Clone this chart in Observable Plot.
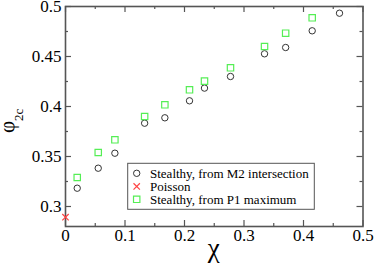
<!DOCTYPE html>
<html>
<head>
<meta charset="utf-8">
<script src="https://cdn.jsdelivr.net/npm/d3@7"></script>
<script src="https://cdn.jsdelivr.net/npm/@observablehq/plot@0.6"></script>
<style>
  html, body { margin: 0; padding: 0; background: #fff; }
  #chart { position: relative; width: 374px; height: 265px; }
  #chart svg, #chart svg text { font-family: "Liberation Serif", "Times New Roman", Times, serif !important; }
</style>
</head>
<body>
<div id="chart"></div>
<script>
// Data
const m2Chi = [0.0197, 0.055, 0.083, 0.133, 0.167, 0.2084, 0.2336, 0.2773, 0.3345, 0.370, 0.4146, 0.4605];
const m2Phi = [0.3183, 0.3383, 0.3533, 0.3833, 0.3887, 0.4057, 0.4184, 0.4300, 0.4527, 0.459, 0.4757, 0.4933];
const p1Chi = [0.0197, 0.055, 0.083, 0.133, 0.167, 0.2084, 0.2336, 0.2773, 0.3345, 0.370, 0.4146];
const p1Phi = [0.329, 0.354, 0.3667, 0.390, 0.4017, 0.4167, 0.4254, 0.4387, 0.460, 0.4733, 0.4887];
const poissonChi = [0];
const poissonPhi = [0.2893];
const xMajor = [0, 0.1, 0.2, 0.3, 0.4, 0.5];
const xMinor = [0.05, 0.15, 0.25, 0.35, 0.45];
const yMajor = [0.3, 0.35, 0.4, 0.45, 0.5];
const yMinor = [0.325, 0.375, 0.425, 0.475];
const legendLabels = ["Stealthy, from M2 intersection", "Poisson", "Stealthy, from P1 maximum"];

const m2 = m2Chi.map((x, i) => ({x, y: m2Phi[i]}));
const p1 = p1Chi.map((x, i) => ({x, y: p1Phi[i]}));
const poisson = poissonChi.map((x, i) => ({x, y: poissonPhi[i]}));

const W = 374, H = 265;
const mL = 65, mR = 11.5, mT = 6, mB = 39;
const fw = W - mL - mR, fh = H - mT - mB;
const axisCol = "#555";
const circCol = "#333";
const sqCol = "#55ee55";
const xCol = "#ff4444";

const plot = Plot.plot({
  width: W, height: H,
  marginLeft: mL, marginRight: mR, marginTop: mT, marginBottom: mB,
  x: {domain: [0, 0.5], axis: null},
  y: {domain: [0.28, 0.5], axis: null},
  style: {fontSize: "17px", color: "#000", background: "#fff", overflow: "visible"},
  marks: [
    Plot.tickX(xMajor, {x: d => d, insetTop: fh - 6, stroke: axisCol, strokeWidth: 1.2}),
    Plot.tickX(xMajor, {x: d => d, insetBottom: fh - 6, stroke: axisCol, strokeWidth: 1.2}),
    Plot.tickX(xMinor, {x: d => d, insetTop: fh - 3, stroke: axisCol, strokeWidth: 1.2}),
    Plot.tickX(xMinor, {x: d => d, insetBottom: fh - 3, stroke: axisCol, strokeWidth: 1.2}),
    Plot.tickY(yMajor, {y: d => d, insetRight: fw - 6, stroke: axisCol, strokeWidth: 1.2}),
    Plot.tickY(yMajor, {y: d => d, insetLeft: fw - 6, stroke: axisCol, strokeWidth: 1.2}),
    Plot.tickY(yMinor, {y: d => d, insetRight: fw - 3, stroke: axisCol, strokeWidth: 1.2}),
    Plot.tickY(yMinor, {y: d => d, insetLeft: fw - 3, stroke: axisCol, strokeWidth: 1.2}),
    Plot.axisX(xMajor, {tickSize: 0, tickPadding: 2, tickFormat: d => String(d), label: null, fontSize: 17}),
    Plot.axisY(yMajor, {tickSize: 0, tickPadding: 4, tickFormat: d => String(d), label: null, fontSize: 17}),
    Plot.frame({stroke: axisCol, strokeWidth: 1.6}),
    Plot.dot(m2, {x: "x", y: "y", r: 3.2, stroke: circCol, strokeWidth: 1, fill: "none"}),
    Plot.dot(p1, {x: "x", y: "y", symbol: "square", r: 3.6, stroke: sqCol, strokeWidth: 1.2, fill: "none"}),
    Plot.dot(poisson, {x: "x", y: "y", symbol: "times", r: 3, stroke: xCol, strokeWidth: 1.2, fill: "none"})
  ]
});

document.getElementById("chart").appendChild(plot);

const svg = d3.select(plot);
// y label: phi_2c
const yl = svg.append("text")
  .attr("transform", "translate(14,133) rotate(-90)")
  .attr("text-anchor", "start")
  .attr("fill", "#000");
yl.append("tspan").attr("font-size", 21).text("φ");
yl.append("tspan").attr("font-size", 13).attr("dy", 9).text("2c");

// x label: chi
svg.append("text")
  .attr("x", mL + fw / 2).attr("y", 257)
  .attr("text-anchor", "middle")
  .attr("font-size", 27)
  .attr("fill", "#000")
  .text("χ");

// legend
const lg = svg.append("g").attr("font-size", 13).attr("text-anchor", "start");
lg.append("rect").attr("x", 127.7).attr("y", 163.3).attr("width", 186.6).attr("height", 46)
  .attr("fill", "#fff").attr("stroke", axisCol).attr("stroke-width", 1);
const rowY = [173.3, 186.4, 199.3];
const syms = [
  {t: d3.symbolCircle, s: Math.PI * 3.2 * 3.2, c: circCol, w: 1},
  {t: d3.symbolTimes, s: Math.PI * 3 * 3, c: xCol, w: 1.2},
  {t: d3.symbolSquare, s: Math.PI * 3.6 * 3.6, c: sqCol, w: 1.2}
];
legendLabels.forEach((lab, i) => {
  lg.append("path").attr("d", d3.symbol(syms[i].t, syms[i].s)())
    .attr("transform", `translate(136.7,${rowY[i]})`)
    .attr("fill", "none").attr("stroke", syms[i].c).attr("stroke-width", syms[i].w);
  lg.append("text").attr("x", 150).attr("y", rowY[i] + 4.5).attr("fill", "#000").attr("text-anchor", "start").text(lab);
});
</script>
</body>
</html>
